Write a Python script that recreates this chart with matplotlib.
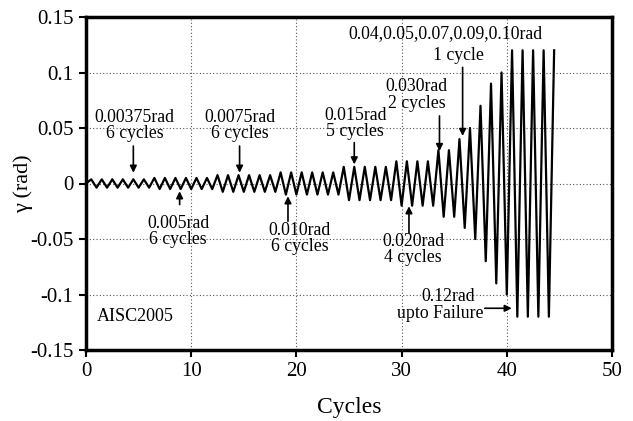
import numpy as np
import matplotlib
matplotlib.use('Agg')
import matplotlib.pyplot as plt

# ---- data ----
amp_levels = [0.00375, 0.005, 0.0075, 0.010, 0.015, 0.020, 0.030,
              0.04, 0.05, 0.07, 0.09, 0.10, 0.12]
cycles_per_level = [6, 6, 6, 6, 5, 4, 2, 1, 1, 1, 1, 1, 5]

x_ticks = [0, 10, 20, 30, 40, 50]
y_ticks = [-0.15, -0.1, -0.05, 0, 0.05, 0.1, 0.15]
y_tick_labels = ['-0.15', '-0.1', '-0.05', '0', '0.05', '0.1', '0.15']

# ---- build waveform from cycle amplitudes ----
amps = np.repeat(amp_levels, cycles_per_level)
xs = [0.0]
ys = [0.0]
for k, a in enumerate(amps):
    xs += [k + 0.5, k + 1.0]
    ys += [a, -a]
xs = xs[:-1]
ys = ys[:-1]

plt.rcParams['font.family'] = ['Liberation Serif', 'DejaVu Serif']

fig = plt.figure(figsize=(6.33, 4.21), dpi=100)
ax = fig.add_axes([86/633, 1-350/421, (612-86)/633, (350-17)/421])

ax.plot(xs, ys, color='black', lw=1.6, zorder=3)

ax.set_xlim(0, 50)
ax.set_ylim(-0.15, 0.15)
ax.set_xticks(x_ticks)
ax.set_yticks(y_ticks)
ax.set_yticklabels(y_tick_labels)
ax.grid(True, linestyle=(0, (1, 2)), color='#555555', lw=0.8)
for s in ax.spines.values():
    s.set_linewidth(2.5)
ax.tick_params(direction='out', length=5, width=1.5, labelsize=15, pad=4,
               top=False, right=False)
ax.set_xlabel('Cycles', fontsize=17, labelpad=11)
ax.set_ylabel('γ (rad)', fontsize=16)
ax.yaxis.set_label_coords(-0.101, 0.5)

fs = 12.8
arrow = dict(arrowstyle='-|>', color='black', lw=1.2, mutation_scale=10,
             shrinkA=0, shrinkB=0)

def ann(txt, xy, xytext, tx, ty):
    ax.annotate('', xy=xy, xytext=xytext, arrowprops=arrow)
    ax.text(tx, ty, txt, ha='center', va='center', fontsize=fs,
            linespacing=0.95)

ann('0.00375rad\n6 cycles', (4.5, 0.0097), (4.5, 0.0337), 4.6, 0.052)
ann('0.005rad\n6 cycles', (8.9, -0.007), (8.9, -0.019), 8.75, -0.0434)
ann('0.0075rad\n6 cycles', (14.6, 0.0097), (14.6, 0.0337), 14.6, 0.0524)
ann('0.010rad\n6 cycles', (19.2, -0.0115), (19.2, -0.034), 20.3, -0.0497)
ann('0.015rad\n5 cycles', (25.5, 0.0172), (25.5, 0.0368), 25.6, 0.054)
ann('0.020rad\n4 cycles', (30.7, -0.0205), (30.7, -0.0446), 31.1, -0.0597)
ann('0.030rad\n2 cycles', (33.6, 0.0292), (33.6, 0.0609), 31.4, 0.0796)
ax.annotate('', xy=(35.8, 0.0428), xytext=(35.8, 0.1046), arrowprops=arrow)
ax.text(34.2, 0.1347, '0.04,0.05,0.07,0.09,0.10rad', ha='center', va='center',
        fontsize=fs)
ax.text(35.4, 0.1151, '1 cycle', ha='center', va='center', fontsize=fs)
ax.annotate('', xy=(40.47, -0.1124), xytext=(37.9, -0.1124), arrowprops=arrow)
ax.text(34.4, -0.1019, '0.12rad', ha='center', va='center', fontsize=fs)
ax.text(37.8, -0.117, 'upto Failure', ha='right', va='center', fontsize=fs)
ax.text(1.0, -0.12, 'AISC2005', ha='left', va='center', fontsize=13)

fig.savefig('out.png', dpi=100)
